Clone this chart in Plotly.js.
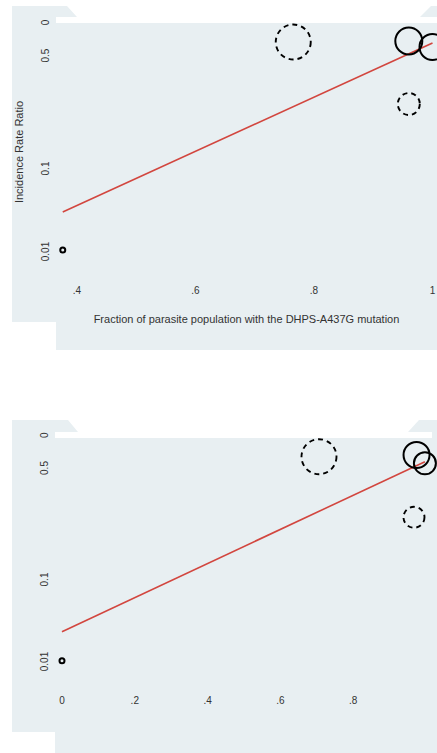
<!DOCTYPE html>
<html>
<head>
<meta charset="utf-8">
<script src="https://cdn.plot.ly/plotly-3.0.1.min.js"></script>
<style>html,body{margin:0;padding:0;background:#fff;}#chart{width:437px;height:753px;}</style>
</head>
<body>
<div id="chart"></div>
<script>
// ---- data (y in log-scale axis units) ----
const topX = [0.765, 0.960, 1.000, 0.960, 0.376];
const topY = [0.542, 0.554, 0.482, -0.205, -1.964];
const topWeight = [35, 27, 26, 22, 5];
const topGroup = ['B', 'A', 'A', 'B', 'A'];
const topFitX = [0.376, 1.0];
const topFitY = [-1.506, 0.530];

const botX = [0.706, 0.974, 0.997, 0.967, 0.0];
const botY = [0.516, 0.537, 0.435, -0.223, -1.972];
const botWeight = [35, 26, 22, 21, 5];
const botGroup = ['B', 'A', 'A', 'B', 'A'];
const botFitX = [0.0, 0.997];
const botFitY = [-1.618, 0.455];

const yTickVals = [-2, -1, 0.36, 0.76];
const yTickText = ['0.01', '0.1', '0.5', '0'];
const topXTickVals = [0.4, 0.6, 0.8, 1.0];
const topXTickText = ['.4', '.6', '.8', '1'];
const botXTickVals = [0, 0.2, 0.4, 0.6, 0.8];
const botXTickText = ['0', '.2', '.4', '.6', '.8'];

const xTitle = 'Fraction of parasite population with the DHPS-A437G mutation';
const yTitle = 'Incidence Rate Ratio';

// ---- helpers ----
const W = 437, H = 753;
const BG = '#e8eff2';
const fx = x => x / W;
const fy = y => 1 - y / H;
function poly(pts) {
  return 'M' + pts.map(p => fx(p[0]).toFixed(5) + ',' + fy(p[1]).toFixed(5)).join(' L') + ' Z';
}
function bgShape(pts) {
  return {type: 'path', xref: 'paper', yref: 'paper', path: poly(pts), fillcolor: BG, line: {width: 0}, layer: 'below'};
}

function panelTraces(X, Y, Wt, G, FX, FY, xa, ya) {
  const idxA = X.map((_, i) => i).filter(i => G[i] === 'A');
  const tr = [];
  tr.push({
    x: FX, y: FY, xaxis: xa, yaxis: ya, type: 'scatter', mode: 'lines',
    line: {color: '#d2463f', width: 1.6}, hoverinfo: 'skip', showlegend: false
  });
  tr.push({
    x: idxA.map(i => X[i]), y: idxA.map(i => Y[i]), xaxis: xa, yaxis: ya,
    type: 'scatter', mode: 'markers', cliponaxis: false, showlegend: false,
    marker: {
      symbol: 'circle-open', color: '#000', opacity: 1,
      size: idxA.map(i => Wt[i]),
      line: {color: '#000', width: 2}
    }
  });
  return tr;
}
function dashedShapes(X, Y, Wt, G, xr, yr) {
  const s = [];
  X.forEach((x, i) => {
    if (G[i] !== 'B') return;
    const r = Wt[i] / 2;
    s.push({
      type: 'circle', xref: xr, yref: yr,
      xsizemode: 'pixel', ysizemode: 'pixel',
      xanchor: x, yanchor: Y[i], x0: -r, x1: r, y0: -r, y1: r,
      line: {color: '#000', width: 1.9, dash: '5px,4px'}, layer: 'above'
    });
  });
  return s;
}

const data = [].concat(
  panelTraces(topX, topY, topWeight, topGroup, topFitX, topFitY, 'x', 'y'),
  panelTraces(botX, botY, botWeight, botGroup, botFitX, botFitY, 'x2', 'y2')
);

const shapes = [
  // top panel background
  bgShape([[12,6],[67,6],[77,17],[56,17],[56,23],[437,23],[437,350],[56,350],[56,322],[12,322]]),
  bgShape([[420,17],[431,6],[437,6],[437,17]]),
  // bottom panel background
  bgShape([[12,420],[68,420],[78,432],[55,432],[55,438],[437,438],[437,753],[55,753],[55,732],[12,732]]),
  bgShape([[408,432],[419,420],[437,420],[437,432]]),
  bgShape([[432,432],[437,432],[437,438],[432,438]])
].concat(
  dashedShapes(topX, topY, topWeight, topGroup, 'x', 'y'),
  dashedShapes(botX, botY, botWeight, botGroup, 'x2', 'y2')
);

const tickFont = {family: 'Liberation Sans, Arial, sans-serif', size: 10, color: '#333'};
const titleFont = {family: 'Liberation Sans, Arial, sans-serif', size: 11, color: '#333'};
const axBase = {showgrid: false, zeroline: false, showline: false, ticks: '', tickfont: tickFont, fixedrange: true};

const layout = {
  width: W, height: H,
  margin: {l: 0, r: 0, t: 0, b: 0},
  paper_bgcolor: '#ffffff', plot_bgcolor: 'rgba(0,0,0,0)',
  showlegend: false,
  font: tickFont,
  xaxis: Object.assign({}, axBase, {
    domain: [fx(56), 1], range: [0.3646, 1.0076], anchor: 'y',
    tickmode: 'array', tickvals: topXTickVals, ticktext: topXTickText,
    title: {text: xTitle, font: titleFont, standoff: 20}
  }),
  yaxis: Object.assign({}, axBase, {
    domain: [fy(283), fy(21)], range: [-2.361, 0.795], anchor: 'x',
    tickmode: 'array', tickvals: yTickVals, ticktext: yTickText, tickangle: -90,
    ticklabelstandoff: 4,
    title: {text: yTitle, font: titleFont, standoff: 14}
  }),
  xaxis2: Object.assign({}, axBase, {
    domain: [fx(55), 1], range: [-0.0192, 1.0302], anchor: 'y2',
    tickmode: 'array', tickvals: botXTickVals, ticktext: botXTickText
  }),
  yaxis2: Object.assign({}, axBase, {
    domain: [fy(693), fy(434)], range: [-2.366, 0.793], anchor: 'x2',
    tickmode: 'array', tickvals: yTickVals, ticktext: yTickText, tickangle: -90,
    ticklabelstandoff: 4
  }),
  shapes: shapes
};

Plotly.newPlot('chart', data, layout, {staticPlot: true, displayModeBar: false});
</script>
</body>
</html>
